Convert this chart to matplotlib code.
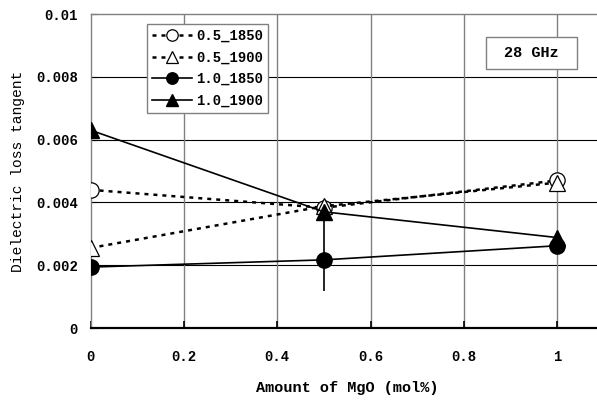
import matplotlib
matplotlib.use("Agg")
import matplotlib.pyplot as plt
from matplotlib.patches import Rectangle

# MgO amount (mol%)
mgo = [0.0, 0.5, 1.0]

# dielectric loss tangent at 28 GHz
tan_05_1850 = [0.00440, 0.00383, 0.00470]
tan_05_1900 = [0.00255, 0.00388, 0.00463]
tan_10_1850 = [0.00194, 0.00217, 0.00262]
tan_10_1900 = [0.00630, 0.00370, 0.00288]

# scatter bar at 0.5 mol% (1.0_1850)
err_x = [0.5]
err_y = [0.00217]
err_lo = [0.00100]
err_hi = [0.00130]

xticks = [0, 0.2, 0.4, 0.6, 0.8, 1.0]
xtick_labels = ["0", "0.2", "0.4", "0.6", "0.8", "1"]
yticks = [0, 0.002, 0.004, 0.006, 0.008, 0.01]
ytick_labels = ["0", "0.002", "0.004", "0.006", "0.008", "0.01"]

FONT = "Liberation Mono"
W, H = 597, 403

fig = plt.figure(figsize=(W / 100, H / 100), dpi=100)
fig.patch.set_facecolor("white")

# plot area runs past the right edge of the picture, like the source
x0, x1 = 90.6, 604.0
y0, y1 = 328.0, 14.0
ax = fig.add_axes([x0 / W, 1 - y0 / H, (x1 - x0) / W, (y0 - y1) / H])
ax.set_xlim(0, 1.1)
ax.set_ylim(0, 0.01)

# grid: black horizontal, grey vertical
for yv in yticks[1:-1]:
    ax.axhline(yv, color="black", lw=0.8, zorder=1)
for xv in xticks[1:]:
    ax.axvline(xv, color="#808080", lw=1.0, zorder=1)

dots = (0, (1.6, 2.0))
ms = 11

ax.plot(mgo, tan_05_1850, color="black", lw=1.8, ls=dots, marker="o",
        ms=ms, mfc="white", mec="black", mew=0.9, label="0.5_1850", zorder=3)
ax.plot(mgo, tan_05_1900, color="black", lw=1.8, ls=dots, marker="^",
        ms=ms, mfc="white", mec="black", mew=0.9, label="0.5_1900", zorder=3)
ax.plot(mgo, tan_10_1850, color="black", lw=1.2, ls="-", marker="o",
        ms=ms, mfc="black", mec="black", label="1.0_1850", zorder=4)
ax.plot(mgo, tan_10_1900, color="black", lw=1.2, ls="-", marker="^",
        ms=ms, mfc="black", mec="black", label="1.0_1900", zorder=4)
ax.errorbar(err_x, err_y, yerr=[err_lo, err_hi], fmt="none",
            ecolor="black", elinewidth=1.2, capsize=0, zorder=2)

for side in ["left", "top", "right"]:
    ax.spines[side].set_color("#808080")
    ax.spines[side].set_linewidth(1.0)
ax.spines["bottom"].set_color("black")
ax.spines["bottom"].set_linewidth(1.6)

ax.set_xticks(xticks)
ax.set_xticklabels(xtick_labels, fontfamily=FONT, fontweight="bold", fontsize=10)
ax.set_yticks(yticks)
ax.set_yticklabels(ytick_labels, fontfamily=FONT, fontweight="bold", fontsize=10)
ax.tick_params(axis="x", direction="in", length=5, width=1.2, pad=16, colors="black")
ax.tick_params(axis="y", direction="in", length=4, width=0.8, pad=9, colors="black")

ax.set_xlabel("Amount of MgO (mol%)", fontfamily=FONT, fontweight="bold",
              fontsize=11, labelpad=12)
fig.text(18 / W, 1 - 171 / H, "Dielectric loss tangent", rotation=90,
         ha="center", va="center", fontfamily=FONT, fontsize=10.5)

leg = ax.legend(loc="upper left", bbox_to_anchor=(147 / W, 1 - 24 / H),
                bbox_transform=fig.transFigure, borderaxespad=0,
                prop={"family": FONT, "size": 10, "weight": "bold"},
                handlelength=2.9, handletextpad=0.3, labelspacing=0.55,
                borderpad=0.35, markerscale=0.75, fancybox=False,
                framealpha=1, edgecolor="#808080")
leg.get_frame().set_linewidth(1.0)

# frequency tag
fig.patches.append(Rectangle((486 / W, 1 - 69 / H), 91 / W, 32 / H,
                             transform=fig.transFigure, fill=True,
                             facecolor="white", edgecolor="#808080", lw=1.0,
                             zorder=5))
fig.text(531.5 / W, 1 - 53 / H, "28 GHz", ha="center", va="center",
         fontfamily=FONT, fontweight="bold", fontsize=11, zorder=6)

fig.savefig("out.png", dpi=100)
